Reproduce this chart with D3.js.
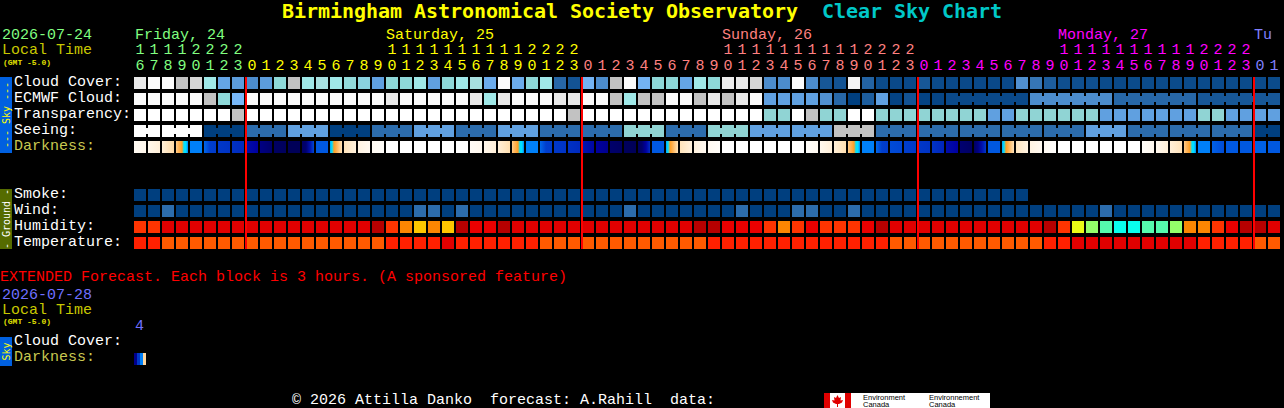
<!DOCTYPE html>
<html>
<head>
<meta charset="utf-8">
<script src="https://cdnjs.cloudflare.com/ajax/libs/d3/7.8.5/d3.min.js"></script>
<style>
  html, body { margin: 0; padding: 0; background: #000; overflow: hidden; }
  svg { display: block; }
  text { font-family: 'Liberation Mono', monospace; font-size: 15px; white-space: pre; }
  rect { shape-rendering: crispEdges; }
</style>
</head>
<body>
<svg id="chart" width="1284" height="408"></svg>
<script>
// hours shown on the chart, first block is 16:00 friday
const hours = [16,17,18,19,20,21,22,23,
  0,1,2,3,4,5,6,7,8,9,10,11,12,13,14,15,16,17,18,19,20,21,22,23,
  0,1,2,3,4,5,6,7,8,9,10,11,12,13,14,15,16,17,18,19,20,21,22,23,
  0,1,2,3,4,5,6,7,8,9,10,11,12,13,14,15,16,17,18,19,20,21,22,23,
  0,1]
const dayNames = ['Friday, 24', 'Saturday, 25', 'Sunday, 26', 'Monday, 27', 'Tuesday, 28']
const dayColors = ['#80ff80', '#ffff00', '#ff8080', '#ff00ff', '#8080ff']

// cloud cover in percent
const cloudCover = [90,100,100,80,85,70,42,38,30,38,60,80,70,72,70,62,58,40,60,60,70,40,
  60,70,72,45,100,45,60,70,20,10,48,30,80,100,48,60,60,42,70,60,92,90,85,30,30,100,30,12,10,96,
  18,6,5,5,12,6,5,5,5,5,5,32,24,15,8,8,8,6,5,6,6,6,6,6,6,6,6,6,6,6]
const ecmwfCloud = [100,100,100,100,100,80,60,50,100,100,100,100,100,100,100,100,100,100,90,100,100,100,
  100,100,90,70,90,100,100,100,90,90,100,100,80,70,80,80,100,100,80,90,80,90,100,40,40,40,40,32,20,0,
  15,40,2,10,2,3,5,5,5,5,5,5,30,30,30,30,30,30,20,20,20,20,20,20,12,12,12,12,12,12]
// 0 best .. 5 too cloudy
const transparency = [5,5,5,5,5,5,5,4,5,5,5,5,5,5,5,5,5,5,5,5,5,5,
  5,5,5,5,5,5,5,5,5,4,5,5,5,5,5,5,5,5,5,5,5,5,5,3,3,5,4,3,3,5,
  5,3,3,3,3,3,3,3,3,2,2,3,3,3,3,3,3,2,2,2,2,2,2,2,3,3,2,2,2,2]
const seeing = [5,5,5,5,5,0,0,0,1,1,1,2,2,2,0,0,0,1,1,1,2,2,
  2,1,1,1,2,2,2,1,1,1,1,1,1,3,3,3,1,1,1,3,3,3,2,2,2,2,2,2,4,4,
  4,1,1,1,1,1,1,1,1,1,1,1,1,1,1,1,2,2,2,1,1,1,1,1,1,1,1,1,0,0]
// limiting magnitude samples across each block, -4 is full daylight
const darkness = [[-3.6,-3.3],[-3.3,-2.8],[-2.8,-1.9],[-1.6,-1.2,-0.9,-0.6,0,0,1],[1,1],[1.6,2.8,2.9],[3,3.2],[3.3,3.6],
  [4.6,5],[5.3,5.6],[5.8,5.9],[6,6],[5.8,5.5,4.5,2.5],[2,2],[0.6,0,-0.6,-0.9,-1.3,-1.7,-2.2],[-2.2,-2.9],[-3,-3.5],[-3.6,-3.8],
  [-4,-4],[-4,-4],[-4,-4],[-4,-4],[-4,-4],[-4,-4],[-3.7,-3.4],[-3.3,-2.8],[-2.8,-2],[-1.6,-1.2,-0.9,-0.6,0,0,1],[1,1],[1.6,2.8,2.9],[3,3.2],[3.3,3.6],
  [4.3,4.8],[5,5.2],[5.6,5.8],[5.9,6],[5.9,5.6,5,3.5],[2,2],[0.6,0,-0.6,-0.9,-1.3,-1.7,-2.2],[-2.2,-2.9],[-2.9,-3.5],[-3.5,-3.8],
  [-4,-4],[-4,-4],[-4,-4],[-4,-4],[-4,-4],[-4,-4],[-3.8,-3.5],[-3.4,-2.8],[-2.8,-2],[-1.6,-1.2,-0.9,-0.6,0,0,1],[1,1],[1.6,2.8,2.9],[2.4,2.6],[2.8,3],
  [3,3.2],[3.2,3.8],[4.6,5],[5.5,5.8],[5.8,5.3,4.5,3],[2,2],[0.6,0,-0.6,-0.9,-1.3,-1.7,-2.2],[-2.3,-3],[-3,-3.5],[-3.6,-3.9],
  [-4,-4],[-4,-4],[-4,-4],[-4,-4],[-4,-4],[-4,-4],[-3.8,-3.4],[-3.4,-2.8],[-2.8,-2.2],[-1.6,-1.2,-0.9,-0.6,0,0,1],[1,1],[1.8,2.4],[2,2],[2,2],[1.8,1.8],[2,2]]
// one 3 hour block of the extended forecast, read in four strips
const extendedDarkness = [5.2, 3, 1, -1.8]

const smoke = [0,0,0,0,0,0,0,0,0,0,0,0,0,0,0,0,0,0,0,0,0,0,0,0,0,0,0,0,0,0,0,0,
  0,0,0,0,0,0,0,0,0,0,0,0,0,0,0,0,0,0,0,0,0,0,0,0,0,0,0,0,0,0,0,0]
// 0 calm, 1 light breeze
const wind = [0,0,1,0,0,0,0,0,0,0,0,0,0,0,0,0,0,0,0,0,1,1,0,1,0,0,0,0,0,0,0,0,
  0,0,0,1,0,0,0,0,0,0,0,1,0,0,0,1,1,0,0,1,0,0,0,0,0,0,0,0,0,0,0,0,
  0,0,0,0,0,1,0,0,0,0,0,0,0,0,0,0,0,0]
const humidity = [82,82,97,97,97,97,97,97,97,97,97,97,97,97,97,97,97,92,82,77,72,77,72,92,87,87,92,
  97,97,97,97,97,97,97,97,97,97,97,97,97,92,92,87,87,87,82,77,82,87,82,82,82,87,92,
  97,97,97,97,97,97,97,97,97,97,97,92,82,67,62,57,52,52,57,57,62,77,77,82,87,92,92,97]
// degrees C
const temperature = [27,27,22,22,22,22,22,22,22,22,22,22,22,22,22,22,22,22,27,27,27,27,32,27,27,27,27,27,27,
  22,22,22,22,22,22,22,22,22,22,22,22,27,27,27,27,27,27,27,27,27,27,27,27,27,
  22,22,22,22,22,22,22,22,22,22,22,27,27,32,32,32,32,32,32,32,32,32,27,27,27,27,22,22]

// blocks that the forecast model gives as one longer step, joined by a neck
const ecmwfSpans = [[58,63],[64,69],[70,75],[76,81]]
const seeingSpans = [[0,1],[2,4],[5,7],[8,10],[11,13],[14,16],[17,19],[20,22],[23,25],[26,28],[29,31],[32,34],
  [35,37],[38,40],[41,43],[44,46],[47,49],[50,52],[53,55],[56,58],[59,61],[62,64],[65,67],[68,70],[71,73],[74,76],[77,79],[80,81]]

const skyRows = ['Cloud Cover:', 'ECMWF Cloud:', 'Transparency:', 'Seeing:', 'Darkness:']
const groundRows = ['Smoke:', 'Wind:', 'Humidity:', 'Temperature:']

const cloudColor = d3.scaleLinear()
  .domain([0,10,20,30,40,50,60,70,80,90,100])
  .range(['#003f7f','#135393','#2767a7','#4c8ccc','#60a0e0','#78b8f8','#8ed8d8','#a0e8e8','#c2c2c2','#e9e9e9','#fbfbfb'])
const levelColor = d3.scaleOrdinal()
  .domain([0,1,2,3,4,5])
  .range(['#003f7f','#2c6cac','#60a0e0','#90d4d4','#c2c2c2','#ffffff'])
const humidityColor = d3.scaleThreshold()
  .domain([55,60,65,70,75,80,85,90,95])
  .range(['#09feed','#55faad','#94fe6a','#eafb16','#fec600','#fc8602','#fe3401','#ea0000','#b70000','#e10000'])
const temperatureColor = d3.scaleThreshold()
  .domain([25,30])
  .range(['#ff5a00','#ff2000','#e00000'])
const windColor = d3.scaleOrdinal().domain([0,1]).range(['#003f7f','#2c6cac'])
const darknessColor = d3.scaleLinear()
  .domain([-4,-3,-2,-1,-0.5,0,1,2,3,4,5,5.5,6])
  .range(['#ffffff','#fff3e2','#ffdfb0','#ffb050','#ff9a18','#00e0ff','#0080f8','#0058e0','#0038c8','#0020b8','#0000a0','#000070','#000058'])

const x = d3.scaleBand().domain(d3.range(hours.length)).range([134, 1280]).paddingInner(2 / 14)
const skyY = d3.scaleBand().domain(skyRows).range([77, 153]).paddingInner(0.25)
const groundY = d3.scaleBand().domain(groundRows).range([189, 249]).paddingInner(0.25)

const svg = d3.select('#chart')
const defs = svg.append('defs')

// which day a column belongs to
let dayIndex = -1
const columnDay = hours.map((h, i) => {
  if (i === 0 || h === 0) dayIndex++
  return dayIndex
})

function label(px, py, str, color, size) {
  return svg.append('text').attr('x', px).attr('y', py).attr('fill', color)
    .style('font-size', (size || 15) + 'px').text(str)
}

function smallLabel(px, py, str) {
  return label(px, py, str, '#e0e000', 8).style('font-weight', 'bold')
}

// title
svg.append('text').attr('x', 282).attr('y', 18).attr('fill', '#ffff00')
  .attr('textLength', 516)
  .style('font-family', "'DejaVu Sans Mono'").style('font-weight', 'bold').style('font-size', '20px')
  .text('Birmingham Astronomical Society Observatory')
svg.append('text').attr('x', 822).attr('y', 18).attr('fill', '#00c8c8')
  .attr('textLength', 180)
  .style('font-family', "'DejaVu Sans Mono'").style('font-weight', 'bold').style('font-size', '20px')
  .text('Clear Sky Chart')

// header
label(2, 39, '2026-07-24', dayColors[0])
label(2, 54, 'Local Time', '#c8c800')
smallLabel(3, 65, '(GMT -5.0)')

svg.append('g').selectAll('text').data(hours).join('text')
  .attr('x', (d, i) => x(i) + x.bandwidth() / 2)
  .attr('y', 70)
  .attr('text-anchor', 'middle')
  .attr('fill', (d, i) => dayColors[columnDay[i]])
  .text((d) => d % 10)
svg.append('g').selectAll('text').data(hours).join('text')
  .attr('x', (d, i) => x(i) + x.bandwidth() / 2)
  .attr('y', 54)
  .attr('text-anchor', 'middle')
  .attr('fill', (d, i) => dayColors[columnDay[i]])
  .text((d) => (d >= 10 ? Math.floor(d / 10) : ''))

// the day name sits over the first two digit hour of that day
dayNames.forEach((name, day) => {
  const first = hours.findIndex((h, i) => columnDay[i] === day && h >= 10)
  const col = first === -1 ? hours.findIndex((h, i) => columnDay[i] === day) : first
  const text = label(x(col) + (day === 0 ? 1 : 0), 39, name, dayColors[day])
  if (first === -1) text.text(name.slice(0, 2))
})

// side bars
function sideBar(y0, y1, fill, color, str) {
  svg.append('rect').attr('x', 0).attr('y', y0).attr('width', 12).attr('height', y1 - y0).attr('fill', fill)
  svg.append('text')
    .attr('transform', `translate(9.5, ${(y0 + y1) / 2}) rotate(-90)`)
    .attr('text-anchor', 'middle')
    .attr('fill', color)
    .style('font-family', "'DejaVu Sans Mono'")
    .style('font-size', '10px')
    .text(str)
}
sideBar(77, 153, '#0060e0', '#ffff00', '--- Sky ---')
sideBar(189, 249, '#556b00', '#ffffff', '- Ground -')

// row labels
skyRows.forEach((name) => label(14, skyY(name) + 9, name, name === 'Darkness:' ? '#c8c850' : '#ffffff'))
groundRows.forEach((name) => label(14, groundY(name) + 9, name, '#ffffff'))

function drawRow(values, py, colorScale, spans) {
  const g = svg.append('g')
  g.selectAll('rect.cell').data(values).join('rect')
    .attr('class', 'cell')
    .attr('x', (d, i) => x(i))
    .attr('y', py)
    .attr('width', x.bandwidth())
    .attr('height', 12)
    .attr('fill', (d) => colorScale(d))
  if (!spans) return
  const necks = spans.flatMap(([a, b]) => d3.range(a, b))
  g.selectAll('rect.neck').data(necks).join('rect')
    .attr('class', 'neck')
    .attr('x', (i) => x(i) + x.bandwidth())
    .attr('y', py + 3)
    .attr('width', x.step() - x.bandwidth())
    .attr('height', 6)
    .attr('fill', (i) => colorScale(values[i]))
}

function drawDarkness(cells, py, prefix) {
  const g = svg.append('g')
  cells.forEach((samples, i) => {
    const grad = defs.append('linearGradient').attr('id', prefix + i)
    samples.forEach((v, j) => {
      grad.append('stop')
        .attr('offset', j / (samples.length - 1))
        .attr('stop-color', darknessColor(v))
    })
  })
  g.selectAll('rect').data(cells).join('rect')
    .attr('x', (d, i) => x(i))
    .attr('y', py)
    .attr('width', x.bandwidth())
    .attr('height', 12)
    .attr('fill', (d, i) => `url(#${prefix}${i})`)
}

drawRow(cloudCover, skyY('Cloud Cover:'), cloudColor)
drawRow(ecmwfCloud, skyY('ECMWF Cloud:'), cloudColor, ecmwfSpans)
drawRow(transparency, skyY('Transparency:'), levelColor)
drawRow(seeing, skyY('Seeing:'), levelColor, seeingSpans)
drawDarkness(darkness, skyY('Darkness:'), 'dark')

drawRow(smoke, groundY('Smoke:'), levelColor)
drawRow(wind, groundY('Wind:'), windColor)
drawRow(humidity, groundY('Humidity:'), humidityColor)
drawRow(temperature, groundY('Temperature:'), temperatureColor)

// midnight lines
const midnights = d3.range(hours.length).filter((i) => hours[i] === 0)
svg.append('g').selectAll('rect').data(midnights).join('rect')
  .attr('x', (i) => x(i) - 1)
  .attr('y', 77)
  .attr('width', 2)
  .attr('height', 172)
  .attr('fill', '#ff0000')

// extended forecast
label(0, 281, 'EXTENDED Forecast. Each block is 3 hours. (A sponsored feature)', '#ff0000')
label(2, 299, '2026-07-28', '#7070ff')
label(2, 314, 'Local Time', '#c8c800')
smallLabel(3, 324, '(GMT -5.0)')
label(x(0) + 1, 330, '4', '#7070ff')
sideBar(337, 366, '#0060e0', '#ffff00', 'Sky')
label(14, 345, 'Cloud Cover:', '#ffffff')
label(14, 361, 'Darkness:', '#c8c850')
const strip = x.bandwidth() / extendedDarkness.length
svg.append('g').selectAll('rect').data(extendedDarkness).join('rect')
  .attr('x', (d, i) => x(0) + i * strip)
  .attr('y', 353)
  .attr('width', strip)
  .attr('height', 12)
  .attr('fill', (d) => darknessColor(d))

// footer
label(292, 404, '\u00a9 2026 Attilla Danko  forecast: A.Rahill  data:', '#ffffff')

// government logo
const logo = svg.append('g').attr('transform', 'translate(824, 393)')
logo.append('rect').attr('width', 166).attr('height', 15).attr('fill', '#ffffff')
logo.append('rect').attr('width', 6).attr('height', 15).attr('fill', '#e00000')
logo.append('rect').attr('x', 21).attr('width', 6).attr('height', 15).attr('fill', '#e00000')
logo.append('path').attr('fill', '#e00000')
  .attr('d', 'M13.5 2 L15 5 L17 4 L16.5 7.5 L19 7 L18 9.5 L15 11 L14 11 L14 14 L13 14 L13 11 L12 11 L9 9.5 L8 7 L10.5 7.5 L10 4 L12 5 Z')
const logoText = [[39, 6.5, 'Environment'], [39, 14, 'Canada'], [105, 6.5, 'Environnement'], [105, 14, 'Canada']]
logo.selectAll('text').data(logoText).join('text')
  .attr('x', (d) => d[0])
  .attr('y', (d) => d[1])
  .attr('fill', '#000000')
  .style('font-family', "'Liberation Sans'")
  .style('font-size', '7.5px')
  .text((d) => d[2])
</script>
</body>
</html>
